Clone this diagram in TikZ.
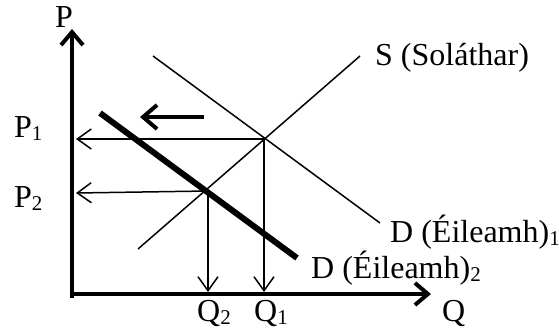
\documentclass[tikz,border=0pt]{standalone}
\usepackage{fontspec}
\setmainfont{Liberation Serif}
\usetikzlibrary{arrows.meta}
\newcommand\sbs[1]{\raisebox{-3pt}{\fontsize{21}{21}\selectfont #1}}
\tikzset{
  lbl/.style={anchor=base west, inner sep=0pt, font=\fontsize{32}{38}\selectfont},
  thinln/.style={line width=1.5pt},
  thinarr/.style={line width=1.5pt, -{Straight Barb[length=14pt,width=20pt]}},
  axis/.style={line width=4pt, -{Straight Barb[length=13pt,width=22pt]}},
}
\begin{document}
\begin{tikzpicture}[x=1pt,y=-1pt]
\useasboundingbox (0,0) rectangle (559,329);
% coordinates
\coordinate (O) at (72,294);
\coordinate (Ytop) at (72,29);
\coordinate (Xend) at (431,294);
\coordinate (E1) at (264,139);
\coordinate (E2) at (208,191);
\coordinate (Sa) at (138,249);
\coordinate (Sb) at (360,56);
\coordinate (D1a) at (153,56);
\coordinate (D1b) at (380,223);
\coordinate (D2a) at (100,113);
\coordinate (D2b) at (297,258);
\coordinate (P1t) at (76,139);
\coordinate (P2t) at (76,193);
\coordinate (Q1t) at (264,292);
\coordinate (Q2t) at (208,292);
\coordinate (SHa) at (204,117);
\coordinate (SHb) at (140,117);
% axes
\draw[axis, line cap=rect] (72,296) -- (Ytop);
\draw[axis] (70,294) -- (Xend);
% curves
\draw[thinln] (Sa) -- (Sb);
\draw[thinln] (D1a) -- (D1b);
\draw[line width=6pt] (D2a) -- (D2b);
% guide arrows
\draw[thinarr] (E1) -- (P1t);
\draw[thinarr] (E2) -- (P2t);
\draw[thinarr] (E1) -- (Q1t);
\draw[thinarr] (E2) -- (Q2t);
% shift arrow
\draw[line width=4pt, -{Straight Barb[length=14pt,width=24pt]}] (SHa) -- (SHb);
% labels
\node[lbl] (P) at (55,28) {P};
\node[lbl] (P1) at (14,137) {P\sbs{1}};
\node[lbl] (P2) at (14,207) {P\sbs{2}};
\node[lbl] (Q2) at (197,321) {Q\sbs{2}};
\node[lbl] (Q1) at (254,321) {Q\sbs{1}};
\node[lbl] (Q) at (442,321) {Q};
\node[lbl] (S) at (375,65) {S (Soláthar)};
\node[lbl] (D1) at (390,242) {D (Éileamh)\sbs{1}};
\node[lbl] (D2) at (311,278) {D (Éileamh)\sbs{2}};
\end{tikzpicture}
\end{document}
